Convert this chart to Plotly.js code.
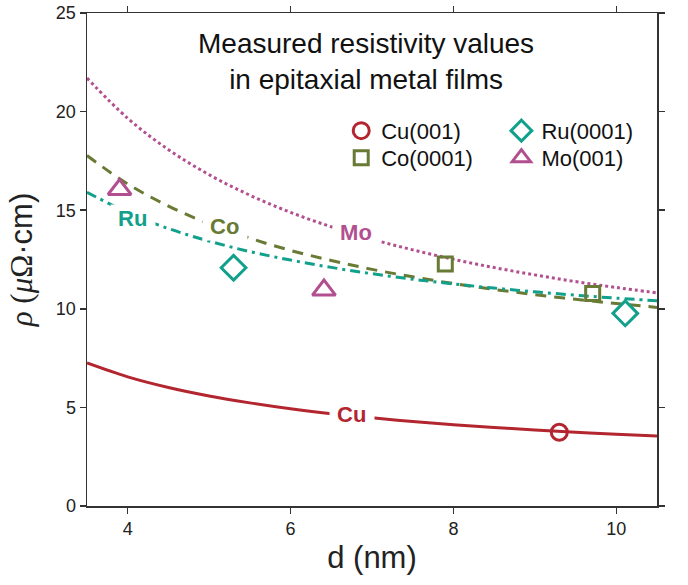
<!DOCTYPE html>
<html><head><meta charset="utf-8">
<script src="https://cdn.plot.ly/plotly-3.0.1.min.js"></script>
<style>body{margin:0;background:#fff}</style>
</head><body><div id="chart" style="width:688px;height:585px"></div>
<script>
// Thickness grid for the model curves (nm)
const thickness = [3.5, 4, 4.5, 5, 5.5, 6, 6.5, 7, 7.5, 8, 8.5, 9, 9.5, 10, 10.5];
// Model curves (µΩ·cm)
const cuCurve = [7.25, 6.55, 6.01, 5.58, 5.23, 4.93, 4.68, 4.47, 4.28, 4.12, 3.98, 3.86, 3.74, 3.64, 3.55];
const coCurve = [17.77, 16.33, 15.21, 14.31, 13.58, 12.96, 12.45, 12.00, 11.62, 11.28, 10.98, 10.72, 10.48, 10.27, 10.07];
const ruCurve = [15.91, 14.88, 14.07, 13.43, 12.90, 12.47, 12.10, 11.78, 11.50, 11.26, 11.05, 10.86, 10.69, 10.54, 10.41];
const moCurve = [21.70, 19.66, 18.07, 16.80, 15.76, 14.89, 14.16, 13.53, 12.99, 12.51, 12.09, 11.72, 11.38, 11.08, 10.81];
// Measured points
const cuD = [9.30], cuRho = [3.74];
const coD = [7.90, 9.71], coRho = [12.27, 10.78];
const ruD = [5.30, 10.11], ruRho = [12.08, 9.77];
const moD = [3.90, 6.41], moRho = [16.05, 10.95];
// Labels
const names = ['Cu(001)', 'Co(0001)', 'Ru(0001)', 'Mo(001)'];
const curveLabels = ['Cu', 'Co', 'Ru', 'Mo'];
const xTicks = [4, 6, 8, 10];
const yTicks = [0, 5, 10, 15, 20, 25];

const C = {cu: '#b3262f', co: '#687a34', ru: '#11a08b', mo: '#b2508f'};
const FONT = 'Liberation Sans, Arial, Helvetica, sans-serif';

function line(y, color, dash) {
  return {x: thickness, y: y, mode: 'lines', type: 'scatter', showlegend: false, hoverinfo: 'skip',
    line: {color: color, width: 3, dash: dash, shape: 'spline', smoothing: 1}};
}
function pts(x, y, name, color, symbol, size, legend) {
  return {x: x, y: y, mode: 'markers', type: 'scatter', name: name, legend: legend,
    marker: {symbol: symbol, size: size, color: color, line: {color: color, width: 3}}};
}

const data = [
  line(cuCurve, C.cu, 'solid'),
  line(moCurve, C.mo, '3px,3px'),
  line(coCurve, C.co, '11px,8px'),
  line(ruCurve, C.ru, '10px,5px,3px,5px'),
  pts(cuD, cuRho, names[0], C.cu, 'circle-open', 16, 'legend'),
  pts(coD, coRho, names[1], C.co, 'square-open', 14, 'legend2'),
  pts(ruD, ruRho, names[2], C.ru, 'diamond-open', 19, 'legend3'),
  pts(moD, moRho, names[3], C.mo, 'triangle-up-open', 20, 'legend4')
];

function lab(text, x, y, color) {
  return {x: x, y: y, xref: 'x', yref: 'y', text: '<b>\u00a0' + text + '\u00a0</b>', showarrow: false,
    bgcolor: '#ffffff', borderpad: 1, font: {family: FONT, size: 22, color: color}};
}
function leg(x, y) {
  return {x: x, y: y, xanchor: 'left', yanchor: 'top', bgcolor: 'rgba(0,0,0,0)',
    font: {family: FONT, size: 22, color: '#111'}, itemwidth: 30};
}

const axisCommon = {showline: true, linecolor: '#333', linewidth: 1.5, mirror: 'ticks', ticks: 'outside',
  ticklen: 6, tickwidth: 1.5, tickcolor: '#333', showgrid: false, zeroline: false,
  tickfont: {family: FONT, size: 18, color: '#222'}};

const layout = {
  width: 688, height: 585,
  margin: {l: 87, r: 31, t: 13, b: 79},
  paper_bgcolor: '#fff', plot_bgcolor: '#fff',
  font: {family: FONT, color: '#111'},
  xaxis: Object.assign({}, axisCommon, {range: [3.5, 10.5], tickvals: xTicks,
    title: {text: 'd (nm)', font: {family: FONT, size: 31, color: '#222'}, standoff: 8}}),
  yaxis: Object.assign({}, axisCommon, {range: [0, 25], tickvals: yTicks,
    title: {text: '<span style="font-family:Liberation Serif"><i>ρ</i> (<i>μ</i>Ω</span>·cm)',
      font: {family: FONT, size: 31, color: '#222'}, standoff: 14}}),
  showlegend: true,
  legend: leg(0.446, 0.8036),
  legend2: leg(0.446, 0.7488),
  legend3: leg(0.727, 0.8036),
  legend4: leg(0.727, 0.7488),
  annotations: [
    {xref: 'paper', yref: 'paper', x: 0.49, y: 0.902, xanchor: 'center', yanchor: 'middle', showarrow: false,
      text: 'Measured resistivity values<br>in epitaxial metal films', align: 'center',
      font: {family: FONT, size: 28, color: '#111'}},
    lab(curveLabels[0], 6.75, 4.65, C.cu),
    lab(curveLabels[1], 5.19, 14.15, C.co),
    lab(curveLabels[2], 4.06, 14.6, C.ru),
    lab(curveLabels[3], 6.80, 13.86, C.mo)
  ]
};

Plotly.newPlot('chart', data, layout, {displayModeBar: false, staticPlot: true});
</script></body></html>
